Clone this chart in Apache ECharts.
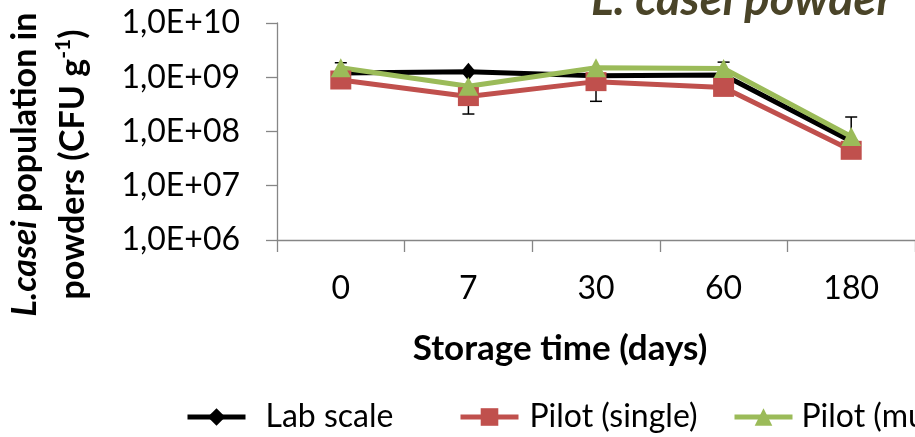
<!DOCTYPE html>
<html><head><meta charset="utf-8">
<script src="https://cdn.jsdelivr.net/npm/echarts@6/dist/echarts.min.js"></script>
<style>html,body{margin:0;padding:0;background:#fff}#c{width:915px;height:437px}</style>
</head><body><div id="c"></div>
<script>
const categories = ['0', '7', '30', '60', '180'];
const labScale = [1.2e9, 1.26e9, 1.07e9, 1.1e9, 6.6e7];
const pilotSingle = [8.9e8, 4.4e8, 8.3e8, 6.5e8, 4.5e7];
const pilotMultiple = [1.5e9, 6.8e8, 1.5e9, 1.45e9, 8.1e7];
// error bars: [category index, from, to]
const errorBars = [[0, 1.5e9, 1.85e9], [1, 4.4e8, 2.1e8], [2, 8.3e8, 3.6e8], [3, 1.45e9, 1.9e9], [4, 8.1e7, 1.85e8]];
const yTickLabels = {6: '1,0E+06', 7: '1,0E+07', 8: '1,0E+08', 9: '1,0E+09', 10: '1,0E+10'};
const seriesNames = ['Lab scale', 'Pilot (single)', 'Pilot (multiple)'];

const FONT = 'Lato';
const chart = echarts.init(document.getElementById('c'));
const axisGrey = '#868686';
function lineSeries(name, data, color, symbol, size) {
  return {
    name, type: 'line', data, color, symbol, symbolSize: size,
    lineStyle: {width: 5, color}, itemStyle: {color},
    showSymbol: true, animation: false, z: 3
  };
}
function legendFor(i, left, textPad) {
  return {
    data: [seriesNames[i]], left, top: 396, itemWidth: 58, itemHeight: 22,
    lineStyle: {width: 5},
    textStyle: {fontFamily: FONT, fontSize: 32, color: '#000', padding: [0, 0, 0, textPad]},
    selectedMode: false
  };
}
chart.setOption({
  animation: false,
  title: {text: 'L. casei powder', left: 586, top: -29,
    textStyle: {fontFamily: FONT, fontSize: 47, fontStyle: 'italic', fontWeight: 'bold', color: '#4a4428'}},
  grid: {left: 277, top: 23, width: 645, height: 217, containLabel: false},
  legend: [legendFor(0, 180, 15), legendFor(1, 453, 6), legendFor(2, 727, 4)],
  xAxis: {
    type: 'category', data: categories, boundaryGap: true,
    axisLine: {lineStyle: {color: axisGrey, width: 1.3}},
    axisTick: {show: true, length: 12, lineStyle: {color: axisGrey, width: 1.3}},
    axisLabel: {fontFamily: FONT, fontSize: 32, color: '#000', margin: 33},
    name: 'Storage time (days)', nameLocation: 'middle', nameGap: 91,
    nameTextStyle: {fontFamily: FONT, fontSize: 35, fontWeight: 'bold', color: '#000', padding: [0, 72, 0, 0]}
  },
  yAxis: {
    type: 'log', logBase: 10, min: 1e6, max: 1e10,
    splitLine: {show: false},
    axisLine: {show: true, lineStyle: {color: axisGrey, width: 1.3}},
    axisTick: {show: true, length: 11, lineStyle: {color: axisGrey, width: 1.3}},
    axisLabel: {fontFamily: FONT, fontSize: 32, color: '#000', margin: 37,
      formatter: v => yTickLabels[Math.round(Math.log10(v))]},
    name: '{i|L.casei}{b| population in}\n{b|powders (CFU g}{sup|-1}{b|)}',
    nameLocation: 'middle', nameRotate: 90, nameGap: 180,
    nameTextStyle: {fontFamily: FONT, padding: [0, 66, 0, 0], align: 'center',
      rich: {
        i: {fontFamily: FONT, fontSize: 34, fontWeight: 'bold', fontStyle: 'italic', color: '#000', lineHeight: 48},
        b: {fontFamily: FONT, fontSize: 34, fontWeight: 'bold', color: '#000', lineHeight: 48},
        sup: {fontFamily: FONT, fontSize: 21, fontWeight: 'bold', color: '#000', lineHeight: 48, verticalAlign: 'top', padding: [4, 0, 0, 0]}
      }}
  },
  series: [
    lineSeries(seriesNames[0], labScale, '#000000', 'diamond', [15, 18]),
    lineSeries(seriesNames[1], pilotSingle, '#C0504D', 'rect', [21, 19]),
    lineSeries(seriesNames[2], pilotMultiple, '#9BBB59', 'triangle', [20, 19]),
    {
      type: 'custom', name: 'err', data: errorBars, z: 2, animation: false,
      renderItem: function (params, api) {
        const p1 = api.coord([api.value(0), api.value(1)]);
        const p2 = api.coord([api.value(0), api.value(2)]);
        const s = {stroke: '#000', lineWidth: 1.5};
        return {type: 'group', children: [
          {type: 'line', shape: {x1: p1[0], y1: p1[1], x2: p2[0], y2: p2[1]}, style: s},
          {type: 'line', shape: {x1: p2[0] - 6, y1: p2[1], x2: p2[0] + 6, y2: p2[1]}, style: s}
        ]};
      }
    }
  ]
});
</script></body></html>
